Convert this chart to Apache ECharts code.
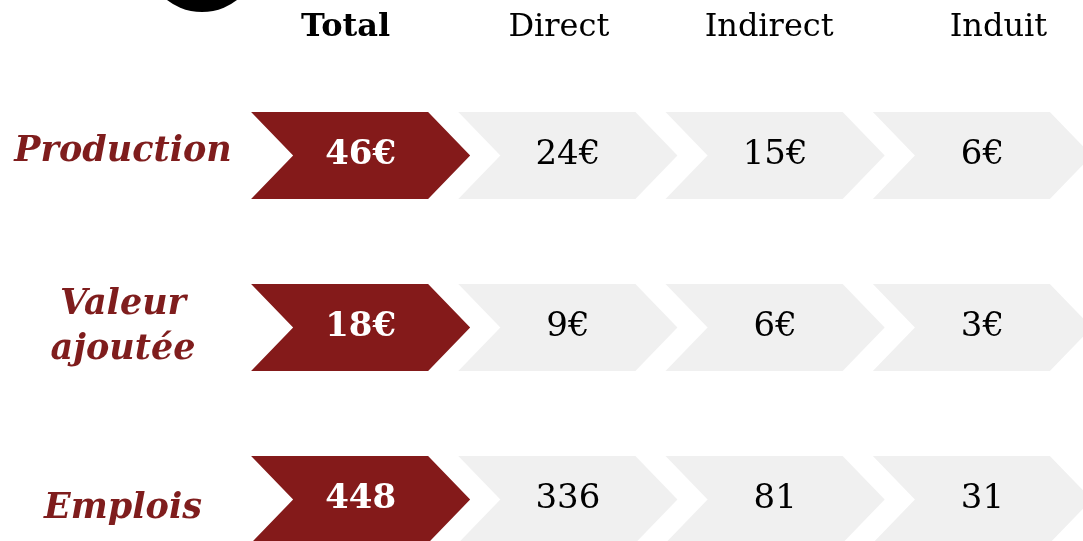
<!DOCTYPE html>
<html>
<head>
<meta charset="utf-8">
<script src="https://cdn.jsdelivr.net/npm/echarts@6/dist/echarts.min.js"></script>
<style>
  html, body { margin: 0; padding: 0; background: #fff; }
  #chart { width: 1083px; height: 541px; }
</style>
</head>
<body>
<div id="chart"></div>
<script>
// colonnes et lignes du tableau
var columns = ['Total', 'Direct', 'Indirect', 'Induit'];
var rows = ['Production', 'Valeur\najoutée', 'Emplois'];
var units = ['€', '€', ''];

// valeurs
var production = [46, 24, 15, 6];
var valeurAjoutee = [18, 9, 6, 3];
var emplois = [448, 336, 81, 31];

var RED = '#841a1a';
var GREY = '#f0f0f0';

var values = [production, valeurAjoutee, emplois];
var data = [];
values.forEach(function (serie, r) {
  serie.forEach(function (v, c) {
    data.push([c, r, v]);
  });
});

// décalage des titres de colonnes (ils ne sont pas tout à fait centrés)
var headPad = {
  Total: [0, 30, 0, 0],
  Direct: [0, 18, 0, 0],
  Indirect: [0, 12, 0, 0],
  Induit: [0, 0, 0, 32]
};
// décalage vertical des libellés de lignes
var rowPad = [[0, 0, 8, 0], [0, 0, 0, 0], [18, 0, 0, 0]];

function renderChevron(params, api) {
  var c = api.value(0), r = api.value(1);
  var p = api.coord([c, r]);
  var size = api.size([1, 1]);
  var w = size[0] * 1.057;
  var h = size[1] * 0.506;
  var d = h * 0.483; // profondeur de la pointe
  var L = p[0] - w / 2, R = p[0] + w / 2;
  var T = p[1] - h / 2, B = p[1] + h / 2;
  var first = c === 0;
  return {
    type: 'polygon',
    shape: {
      points: [[L, T], [R - d, T], [R, p[1]], [R - d, B], [L, B], [L + d, p[1]]]
    },
    style: { fill: first ? RED : GREY },
    textContent: {
      style: {
        text: api.value(2) + units[r],
        fill: first ? '#fff' : '#000',
        font: (first ? 'bold ' : '') + '34px "DejaVu Serif"'
      }
    },
    textConfig: { position: 'inside' }
  };
}

var rowRich = {};
rowPad.forEach(function (pad, i) {
  rowRich['r' + i] = {
    fontFamily: 'DejaVu Serif',
    fontStyle: 'italic',
    fontWeight: 'bold',
    fontSize: 35,
    lineHeight: 45,
    color: '#7f1d1d',
    align: 'center',
    padding: pad
  };
});

var chart = echarts.init(document.getElementById('chart'));
chart.setOption({
  animation: false,
  backgroundColor: '#fff',
  grid: { left: 257, top: 69.5, width: 829, height: 516, outerBoundsMode: 'none' },
  xAxis: {
    type: 'category',
    position: 'top',
    data: columns,
    axisLine: { show: false },
    axisTick: { show: false },
    splitLine: { show: false },
    axisLabel: {
      interval: 0,
      margin: 26,
      formatter: function (v) { return '{' + v + '|' + v + '}'; },
      rich: (function () {
        var o = {};
        columns.forEach(function (k) {
          o[k] = {
            fontFamily: 'DejaVu Serif',
            fontSize: 32,
            fontWeight: k === 'Total' ? 'bold' : 'normal',
            color: '#000',
            padding: headPad[k]
          };
        });
        return o;
      })()
    }
  },
  yAxis: {
    type: 'category',
    inverse: true,
    data: rows,
    axisLine: { show: false },
    axisTick: { show: false },
    splitLine: { show: false },
    axisLabel: {
      interval: 0,
      margin: 134,
      align: 'center',
      fontFamily: 'DejaVu Serif',
      fontStyle: 'italic',
      fontWeight: 'bold',
      fontSize: 35,
      lineHeight: 45,
      color: '#7f1d1d',
      formatter: function (v, i) {
        return v.split('\n').map(function (s) {
          return '{r' + i + '|' + s + '}';
        }).join('\n');
      },
      rich: rowRich
    }
  },
  graphic: [
    { type: 'circle', shape: { cx: 202, cy: -45, r: 57 }, style: { fill: '#000' } }
  ],
  series: [{
    type: 'custom',
    renderItem: renderChevron,
    data: data
  }]
});
</script>
</body>
</html>
